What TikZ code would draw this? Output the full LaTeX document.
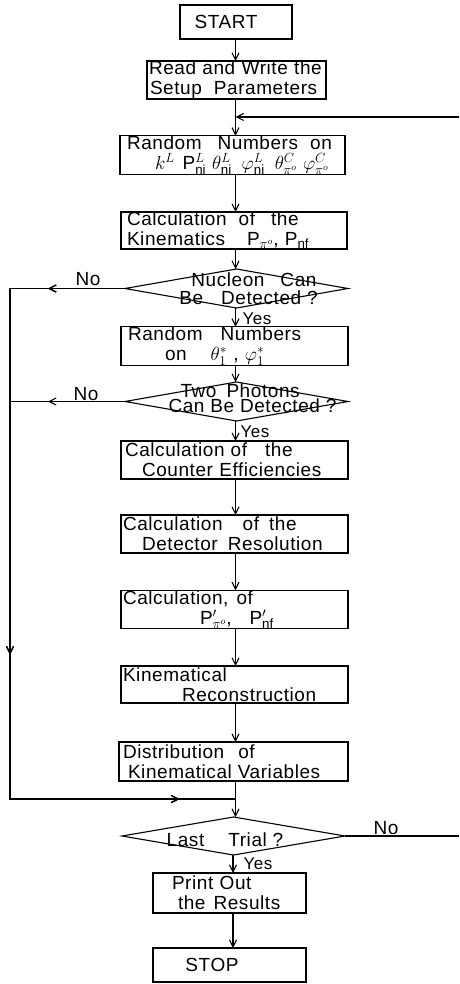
\documentclass[tikz,border=0pt]{standalone}
\usepackage{fix-cm}
\usepackage{fontspec}
\setmainfont[LetterSpace=3]{Liberation Sans}
\usetikzlibrary{arrows.meta,shapes.geometric,decorations.markings}
\newcommand\gp[1]{\hspace{#1pt}}
\newcommand\fsz{\fontsize{19}{20}\selectfont}
\begin{document}
\begin{tikzpicture}[x=1pt,y=-1pt,
  every node/.style={inner sep=0pt,outer sep=0pt},
  line/.style={line width=1.1pt},
  arr/.style={line, -{Straight Barb[length=7pt,width=7pt]}},
  box/.style={draw,line width=1.1pt,rectangle,inner xsep=2pt,inner ysep=0pt,align=left,font=\fsz},
  dia/.style={draw,line width=1.1pt,diamond,inner sep=0pt},
  txt/.style={font=\fsz,align=left},
  lbl/.style={font=\fsz},
  ylbl/.style={font=\fontsize{17}{17}\selectfont},
  mid/.style={postaction={decorate},decoration={markings,mark=at position #1 with {\arrow{Straight Barb[length=7pt,width=7pt]}}}},
]
\useasboundingbox (0,0) rectangle (459,984);

% boxes
\node[box,align=center,text width=108pt,minimum height=34pt] (start) at (236,22) {\hspace*{-20pt}START};
\node[box,text width=175pt,minimum height=38pt] (read) at (236.5,80) {Read and Write the\\\hspace*{1pt}Setup\gp{12}Parameters};
\node[box,text width=221pt,minimum height=38pt] (r1) at (232.5,155) {\hspace*{5pt}Random\gp{16}Numbers\gp{12}on\\\hspace*{33pt}$k^{L}$\gp{8}$\mathrm{P}^{L}_{\mathrm{ni}}$\gp{6}$\theta^{L}_{\mathrm{ni}}$\gp{10}$\varphi^{L}_{\mathrm{ni}}$\gp{10}$\theta^{C}_{\pi^{o}}$\gp{6}$\varphi^{C}_{\pi^{o}}$};
\node[box,text width=222pt,minimum height=37pt] (kin) at (234,230.5) {\hspace*{4pt}Calculation\gp{12}of\gp{16}the\\\hspace*{4pt}Kinematics\gp{22}$\mathrm{P}_{\pi^{o}}$, $\mathrm{P}_{\mathrm{nf}}$};
\node[dia,minimum width=223pt,minimum height=39pt] (d1) at (236.5,288.5) {};
\node[txt,font=\fontsize{19}{18}\selectfont] (d1t) at (248.5,289) {\hspace*{12pt}Nucleon\gp{16}Can\\Be\gp{18}Detected ?};
\node[box,text width=223pt,minimum height=38pt] (r2) at (234.5,346) {\hspace*{5pt}Random\gp{18}Numbers\\\hspace*{42pt}on\gp{24}$\theta_1^{*}$ , $\varphi_1^{*}$};
\node[dia,minimum width=223pt,minimum height=39pt] (d2) at (236.5,401.5) {};
\node[txt,font=\fontsize{19}{15}\selectfont] (d2t) at (252.5,398.5) {\hspace*{12pt}Two\gp{10}Photons\\Can Be Detected ?};
\node[box,text width=223pt,minimum height=38pt] (cnt) at (234.5,460) {\hspace*{2pt}Calculation\gp{6}of\gp{18}the\\\hspace*{19pt}Counter Efficiencies};
\node[box,text width=223pt,minimum height=38pt] (det) at (234.5,534) {Calculation\gp{20}of\gp{10}the\\\hspace*{19pt}Detector\gp{10}Resolution};
\node[box,text width=223pt,minimum height=37pt] (cp) at (234.5,609.5) {Calculation,\gp{8}of\\\hspace*{77pt}$\mathrm{P}'_{\pi^{o}}$,\gp{18}$\mathrm{P}'_{\mathrm{nf}}$};
\node[box,text width=223pt,minimum height=37pt] (kr) at (234.5,684.5) {Kinematical\\\hspace*{59pt}Reconstruction};
\node[box,text width=225pt,minimum height=39pt] (dist) at (233.5,761.5) {\hspace*{2pt}Distribution\gp{14}of\\\hspace*{7pt}Kinematical\gp{6}Variables};
\node[dia,minimum width=223pt,minimum height=38pt] (d3) at (233.5,836) {};
\node[txt] (d3t) at (225,840) {Last\gp{24}Trial ?};
\node[box,text width=149pt,minimum height=40pt] (prt) at (229.5,893) {\hspace*{17pt}Print Out\\\hspace*{23pt}the\gp{8}Results};
\node[box,align=center,text width=149pt,minimum height=34pt] (stop) at (229.5,965) {\hspace*{-35pt}STOP};

% labels
\node[lbl] (no1) at (88,279) {No};
\node[lbl] (no2) at (86,394) {No};
\node[lbl] (no3) at (386,828) {No};
\node[ylbl] (yes1) at (257,319) {Yes};
\node[ylbl] (yes2) at (255,432) {Yes};
\node[ylbl] (yes3) at (258,864) {Yes};

% coordinates
\coordinate (ax) at (235.5,0);
\coordinate (bx) at (233,0);
\coordinate (fbR) at (459,117);
\coordinate (fbL) at (235.5,117);
\coordinate (l1) at (10,288.5);
\coordinate (l2) at (10,799);
\coordinate (j) at (235.5,799);
\coordinate (l3) at (10,401.5);
\coordinate (r3) at (459,836);

% connectors
\draw[arr] (start.south -| ax) -- (read.north -| ax);
\draw[arr] (read.south -| ax) -- (r1.north -| ax);
\draw[arr] (fbR) -- (fbL);
\draw[arr] (r1.south -| ax) -- (kin.north -| ax);
\draw[arr] (kin.south -| ax) -- (d1.north -| ax);
\draw[arr] (d1.south -| ax) -- (r2.north -| ax);
\draw[arr] (r2.south -| ax) -- (d2.north -| ax);
\draw[arr] (d2.south -| ax) -- (cnt.north -| ax);
\draw[arr] (cnt.south -| ax) -- (det.north -| ax);
\draw[arr] (det.south -| ax) -- (cp.north -| ax);
\draw[arr] (cp.south -| ax) -- (kr.north -| ax);
\draw[arr] (kr.south -| ax) -- (dist.north -| ax);
\draw[arr] (dist.south -| ax) -- (d3.north -| ax);
\draw[line,mid=77pt,mid=481pt,mid=795pt] (d1.west) -- (l1) -- (l2) -- (j);
\draw[line,mid=77pt] (d2.west) -- (l3);
\draw[line] (d3.east) -- (r3);
\draw[arr] (d3.south -| bx) -- (prt.north -| bx);
\draw[arr] (prt.south -| bx) -- (stop.north -| bx);
\end{tikzpicture}
\end{document}
